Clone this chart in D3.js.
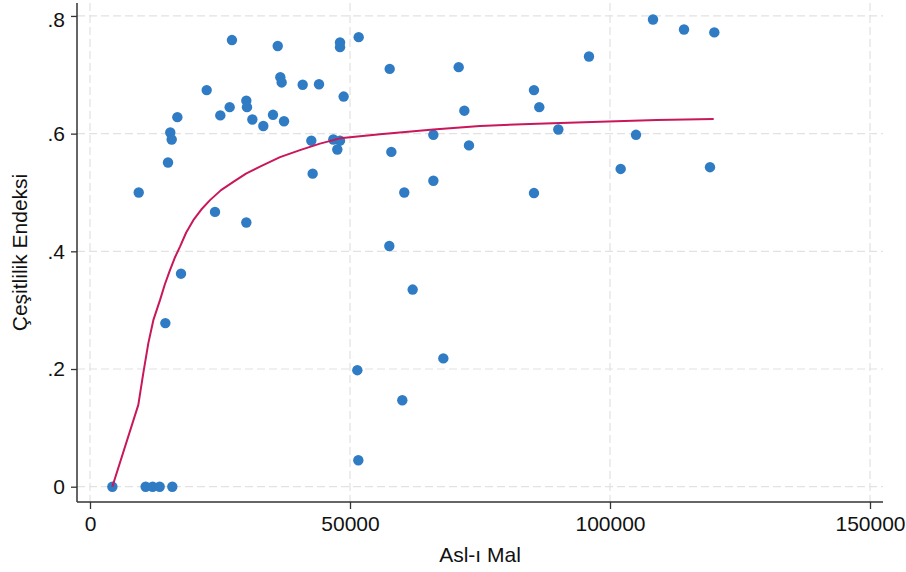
<!DOCTYPE html>
<html>
<head>
<meta charset="utf-8">
<script src="https://cdn.jsdelivr.net/npm/d3@7"></script>
<style>
  html, body { margin: 0; padding: 0; background: #fff; }
  svg { display: block; font-family: "Liberation Sans", Arial, Helvetica, sans-serif; }
</style>
</head>
<body>
<svg id="chart" width="906" height="572"></svg>
<script>
// Scatter points (Asl-ı Mal, Çeşitlilik Endeksi)
const pointX = [27300, 36100, 48080, 48080, 51670, 22440, 36600, 36860, 40900, 44040,
  48780, 16800, 26860, 25060, 30060, 30190, 31220, 33330, 35190, 37310,
  15440, 15710, 15000, 9370, 42560, 46790, 48080, 47560, 42820, 24040,
  30060, 57630, 70900, 85380, 86400, 71990, 90060, 66030, 72880, 57950,
  60440, 66030, 85380, 57560, 108270, 114230, 120060, 95960, 105000, 102050,
  119230, 17500, 14490, 62050, 67950, 51410, 60060, 51600,
  4300, 10700, 12050, 13400, 15830];
const pointY = [0.759, 0.749, 0.755, 0.747, 0.764, 0.674, 0.696, 0.687, 0.683, 0.684,
  0.663, 0.628, 0.645, 0.631, 0.656, 0.645, 0.624, 0.613, 0.632, 0.621,
  0.602, 0.590, 0.551, 0.500, 0.588, 0.590, 0.588, 0.573, 0.532, 0.467,
  0.449, 0.710, 0.713, 0.674, 0.645, 0.639, 0.607, 0.598, 0.580, 0.569,
  0.500, 0.520, 0.499, 0.409, 0.794, 0.777, 0.772, 0.731, 0.598, 0.540,
  0.543, 0.362, 0.278, 0.335, 0.218, 0.198, 0.147, 0.045,
  0, 0, 0, 0, 0];

// Fitted curve
const fitX = [4290, 9290, 10250, 11220, 12180, 13460, 14400, 15380, 16300, 17310, 18500, 19870, 21400, 23080,
  25200, 27560, 30000, 32690, 36540, 40380, 44230, 48080, 55770, 66030, 75000, 86000, 98080, 109000, 119940];
const fitY = [0, 0.139, 0.193, 0.244, 0.283, 0.317, 0.344, 0.368, 0.389, 0.408, 0.432, 0.453, 0.471, 0.487,
  0.504, 0.518, 0.532, 0.544, 0.560, 0.572, 0.583, 0.592, 0.599, 0.607, 0.613, 0.617, 0.620, 0.623, 0.625];

const xTicks = [0, 50000, 100000, 150000];
const yTicks = [0, 0.2, 0.4, 0.6, 0.8];
const xTitle = "Asl-ı Mal";
const yTitle = "Çeşitlilik Endeksi";

const svg = d3.select("#chart");
const W = 906, H = 572;
const m = { left: 77, right: 23, top: 3, bottom: 70 };

const x = d3.scaleLinear().domain([-2500, 152500]).range([m.left, W - m.right]);
const y = d3.scaleLinear().domain([-0.026, 0.822]).range([H - m.bottom, m.top]);

const gridColor = "#e2e2e2";
const dash = "8,4";
const fontSize = 21;

// Grid lines
svg.append("g").selectAll("line.vg").data(xTicks).join("line")
  .attr("x1", d => x(d)).attr("x2", d => x(d))
  .attr("y1", m.top).attr("y2", H - m.bottom)
  .attr("stroke", gridColor).attr("stroke-width", 1.2).attr("stroke-dasharray", dash);
svg.append("g").selectAll("line.hg").data(yTicks).join("line")
  .attr("x1", m.left).attr("x2", W - m.right)
  .attr("y1", d => y(d)).attr("y2", d => y(d))
  .attr("stroke", gridColor).attr("stroke-width", 1.2).attr("stroke-dasharray", dash);

// Axes
const xAxis = d3.axisBottom(x).tickValues(xTicks).tickSize(7).tickPadding(6).tickFormat(d3.format("d"));
const yAxis = d3.axisLeft(y).tickValues(yTicks).tickSize(6).tickPadding(6)
  .tickFormat(d => d === 0 ? "0" : d3.format(".1f")(d).replace(/^0/, ""));

const gx = svg.append("g").attr("transform", `translate(0,${H - m.bottom})`).call(xAxis);
const gy = svg.append("g").attr("transform", `translate(${m.left},0)`).call(yAxis);

[gx, gy].forEach(g => {
  g.select(".domain").attr("stroke", "#333").attr("stroke-width", 1.5);
  g.selectAll(".tick line").attr("stroke", "#333").attr("stroke-width", 1.3);
  g.selectAll(".tick text").attr("fill", "#111").attr("font-size", fontSize)
    .attr("font-family", "Liberation Sans, Arial, sans-serif");
});
gx.select(".domain").attr("d", `M${m.left},0H${W - m.right}`);
gy.select(".domain").attr("d", `M0,${m.top}V${H - m.bottom}`);
gx.selectAll(".tick text").attr("dy", "0.71em").attr("y", 14);
// keep top label inside the canvas
gy.selectAll(".tick").each(function(d) {
  const t = d3.select(this).select("text");
  const yy = y(d);
  if (yy < 20) t.attr("y", 20 - yy);
});

// Titles
svg.append("text").attr("x", (m.left + W - m.right) / 2).attr("y", 562)
  .attr("text-anchor", "middle").attr("font-size", fontSize).attr("fill", "#111").text(xTitle);
svg.append("text").attr("transform", `translate(27,${(m.top + H - m.bottom) / 2}) rotate(-90)`)
  .attr("text-anchor", "middle").attr("font-size", fontSize).attr("fill", "#111").text(yTitle);

// Points
const pts = pointX.map((v, i) => ({ x: v, y: pointY[i] }));
svg.append("g").selectAll("circle").data(pts).join("circle")
  .attr("cx", d => x(d.x)).attr("cy", d => y(d.y)).attr("r", 5.2)
  .attr("fill", "#2f7bc4");

// Fitted line
const fit = fitX.map((v, i) => ({ x: v, y: fitY[i] }));
svg.append("path").datum(fit)
  .attr("d", d3.line().x(d => x(d.x)).y(d => y(d.y)).curve(d3.curveLinear))
  .attr("fill", "none").attr("stroke", "#c8175a").attr("stroke-width", 2)
  .attr("stroke-linejoin", "round");
</script>
</body>
</html>
